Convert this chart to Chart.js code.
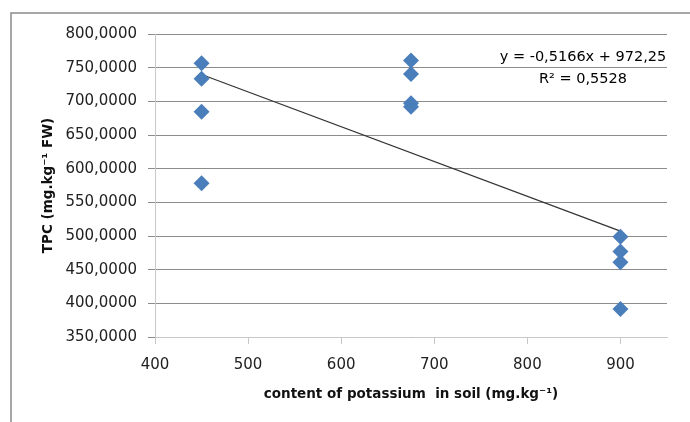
<!DOCTYPE html>
<html>
<head>
<meta charset="utf-8">
<script src="https://cdn.jsdelivr.net/npm/chart.js@4.4.1/dist/chart.umd.min.js"></script>
<style>
  html, body { margin: 0; padding: 0; background: #fff; }
  #wrap { width: 690px; height: 422px; position: relative; }
</style>
</head>
<body>
<div id="wrap"><canvas id="tpcChart"></canvas></div>
<script>
// data
const potassium = [450, 450, 450, 450, 675, 675, 675, 675, 900, 900, 900, 900];
const tpcValues = [756.5, 733.5, 684.5, 578.5, 760.5, 740.5, 697, 692, 499, 477, 461, 391.5];
const trendX = [450, 900];
const trendY = [739.8, 507.3];
const yTicks = [350, 400, 450, 500, 550, 600, 650, 700, 750, 800];
const xTicks = [400, 500, 600, 700, 800, 900];
const equationText = 'y = -0,5166x + 972,25';
const rSquaredText = 'R² = 0,5528';

const FONT = 'DejaVu Sans';

// frame of the original chart box (cut off on the right and bottom)
const frame = {
    id: 'frame',
    beforeDraw(chart) {
        const ctx = chart.ctx;
        ctx.save();
        ctx.fillStyle = '#fff';
        ctx.fillRect(0, 0, chart.width, chart.height);
        ctx.strokeStyle = '#8a8a8a';
        ctx.lineWidth = 1.5;
        ctx.beginPath();
        ctx.moveTo(11, chart.height);
        ctx.lineTo(11, 13);
        ctx.lineTo(chart.width, 13);
        ctx.stroke();
        ctx.restore();
    }
};

// trendline equation, like the spreadsheet label
const equation = {
    id: 'equation',
    afterDatasetsDraw(chart) {
        const ctx = chart.ctx;
        const cx = chart.chartArea.right - 84;
        ctx.save();
        ctx.fillStyle = '#000';
        ctx.font = '14.5px ' + FONT;
        ctx.textAlign = 'center';
        ctx.textBaseline = 'middle';
        ctx.fillText(equationText, cx, chart.chartArea.top + 23);
        ctx.fillText(rSquaredText, cx, chart.chartArea.top + 45);
        ctx.restore();
    }
};

const points = potassium.map((x, i) => ({ x, y: tpcValues[i] }));
const trend = trendX.map((x, i) => ({ x, y: trendY[i] }));

new Chart(document.getElementById('tpcChart'), {
    type: 'scatter',
    data: {
        datasets: [
            {
                label: 'TPC',
                data: points,
                pointStyle: 'rectRot',
                pointRadius: 8,
                backgroundColor: '#4a7ebb',
                borderColor: '#4a7ebb',
                borderWidth: 0,
                order: 1
            },
            {
                label: 'trend',
                type: 'line',
                data: trend,
                borderColor: '#333',
                borderWidth: 1.2,
                pointRadius: 0,
                fill: false,
                order: 2
            }
        ]
    },
    options: {
        responsive: true,
        maintainAspectRatio: false,
        animation: false,
        layout: { padding: { top: 34, right: 23, left: 0, bottom: 0 } },
        plugins: {
            legend: { display: false },
            tooltip: { enabled: false }
        },
        scales: {
            x: {
                type: 'linear',
                min: 400,
                max: 950,
                afterBuildTicks: (scale) => { scale.ticks = xTicks.map(v => ({ value: v })); },
                afterFit: (scale) => { scale.height = 85; },
                border: { color: '#c8c8c8', width: 1 },
                grid: {
                    drawOnChartArea: false,
                    color: '#c8c8c8',
                    tickLength: 7
                },
                ticks: {
                    padding: 12,
                    color: '#222',
                    font: { family: FONT, size: 15 }
                },
                title: {
                    display: true,
                    text: 'content of potassium  in soil (mg.kg⁻¹)',
                    color: '#111',
                    font: { family: FONT, size: 13.5, weight: 'bold' },
                    padding: 19
                }
            },
            y: {
                type: 'linear',
                min: 350,
                max: 800,
                afterBuildTicks: (scale) => { scale.ticks = yTicks.map(v => ({ value: v })); },
                afterFit: (scale) => { scale.width = 155; },
                border: { color: '#c8c8c8', width: 1 },
                grid: {
                    color: '#8c8c8c',
                    tickLength: 7
                },
                ticks: {
                    padding: 11,
                    color: '#222',
                    font: { family: FONT, size: 15 },
                    callback: (v) => v.toFixed(4).replace('.', ',')
                },
                title: {
                    display: true,
                    text: 'TPC (mg.kg⁻¹ FW)',
                    color: '#111',
                    font: { family: FONT, size: 13.5, weight: 'bold' },
                    padding: 40
                }
            }
        }
    },
    plugins: [frame, equation]
});
</script>
</body>
</html>
